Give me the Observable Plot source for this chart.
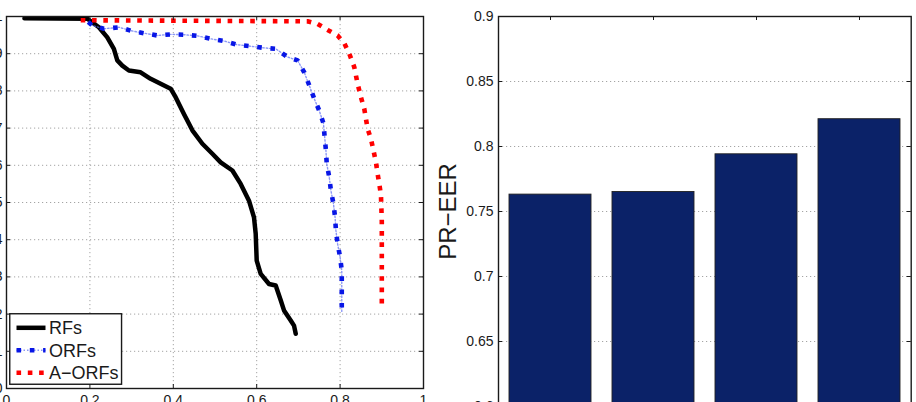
<!DOCTYPE html>
<html>
<head>
<meta charset="utf-8">
<script src="https://cdn.jsdelivr.net/npm/d3@7"></script>
<script src="https://cdn.jsdelivr.net/npm/@observablehq/plot@0.6"></script>
<style>
  html, body { margin: 0; padding: 0; background: #fff; overflow: hidden; }
  #fig { position: relative; width: 916px; height: 402px; overflow: hidden; background: #fff; }
  #fig > svg { position: absolute; top: 0; }
</style>
</head>
<body>
<div id="fig"></div>
<script>
// Precision–recall curves (recall on x, precision on y)
const rfRecall = [0.043, 0.194, 0.2215, 0.2417, 0.2575, 0.2657, 0.2777, 0.2935, 0.3216, 0.3456, 0.3696, 0.3936, 0.4056, 0.4255, 0.4457, 0.4697, 0.4937, 0.5136, 0.5417, 0.5616, 0.5815, 0.5935, 0.5976, 0.600, 0.6096, 0.6295, 0.6456, 0.6576, 0.6655, 0.6816, 0.6895, 0.6936];
const rfPrecision = [0.995, 0.994, 0.971, 0.944, 0.913, 0.882, 0.868, 0.855, 0.850, 0.8325, 0.819, 0.806, 0.783, 0.738, 0.694, 0.658, 0.631, 0.608, 0.586, 0.550, 0.505, 0.460, 0.416, 0.344, 0.308, 0.281, 0.277, 0.237, 0.210, 0.183, 0.169, 0.147];

const orfRecall = [0.196, 0.2057, 0.2335, 0.270, 0.2976, 0.330, 0.3617, 0.394, 0.426, 0.458, 0.490, 0.522, 0.554, 0.586, 0.614, 0.646, 0.674, 0.698, 0.714, 0.726, 0.738, 0.750, 0.760, 0.763, 0.766, 0.768, 0.774, 0.778, 0.784, 0.788, 0.790, 0.794, 0.800, 0.804, 0.804, 0.804, 0.804];
const orfPrecision = [0.985, 0.976, 0.967, 0.971, 0.962, 0.955, 0.949, 0.952, 0.951, 0.948, 0.940, 0.934, 0.924, 0.920, 0.916, 0.913, 0.891, 0.882, 0.850, 0.815, 0.779, 0.747, 0.713, 0.676, 0.640, 0.604, 0.568, 0.532, 0.497, 0.460, 0.425, 0.389, 0.353, 0.317, 0.277, 0.241, 0.205];

const aorfRecall = [0.178, 0.722, 0.746, 0.770, 0.794, 0.810, 0.822, 0.834, 0.842, 0.850, 0.858, 0.866, 0.874, 0.880, 0.886, 0.890, 0.894, 0.898, 0.900, 0.900, 0.900];
const aorfPrecision = [0.990, 0.987, 0.980, 0.964, 0.949, 0.928, 0.900, 0.864, 0.819, 0.783, 0.752, 0.698, 0.671, 0.640, 0.608, 0.577, 0.550, 0.519, 0.450, 0.350, 0.215];

const methods = ["RFs", "ORFs", "A\u2212ORFs"];

// PR-EER of the four configurations
const barCategories = ["1", "2", "3", "4"];
const barValues = [0.763, 0.765, 0.794, 0.821];

// Tick values
const prTicksX = [0, 0.2, 0.4, 0.6, 0.8, 1];
const prTicksY = [0, 0.1, 0.2, 0.3, 0.4, 0.5, 0.6, 0.7, 0.8, 0.9, 1];
const eerTicks = [0.6, 0.65, 0.7, 0.75, 0.8, 0.85, 0.9];

const toPoints = (xs, ys) => xs.map((x, i) => ({recall: x, precision: ys[i]}));
const rf = toPoints(rfRecall, rfPrecision);
const orf = toPoints(orfRecall, orfPrecision);
const aorf = toPoints(aorfRecall, aorfPrecision);
const bars = barCategories.map((c, i) => ({config: c, eer: barValues[i]}));

const font = "'Liberation Sans', Arial, Helvetica, sans-serif";
const ink = "#1a1a1a";
const gridStyle = {stroke: "#9a9a9a", strokeOpacity: 0.9, strokeWidth: 1, strokeDasharray: "1.2,2.8"};

// Line styles shared by the curves and the legend
const styles = {
  rf: {stroke: "#000", strokeWidth: 4.5, strokeLinejoin: "round"},
  orfThin: {stroke: "#5b6cf2", strokeWidth: 1.4, strokeOpacity: 0.7, strokeDasharray: "1.5,2"},
  orf: {stroke: "#0816e6", strokeWidth: 4.6, strokeDasharray: "4.6,8.7", strokeLinecap: "butt"},
  aorf: {stroke: "#f00", strokeWidth: 4.6, strokeDasharray: "4.6,6.7", strokeLinecap: "butt"}
};

// ---------- Left panel: precision–recall curves ----------
const W1 = 467, H1 = 418, ML1 = 40, MR1 = 10, MT1 = 16, MB1 = 30;
const fw1 = W1 - ML1 - MR1, fh1 = H1 - MT1 - MB1;
const tickLen = 4;

const pr = Plot.plot({
  width: W1, height: H1,
  marginLeft: ML1, marginRight: MR1, marginTop: MT1, marginBottom: MB1,
  style: {fontFamily: font, fontSize: "14px", color: ink, background: "transparent", overflow: "visible"},
  x: {domain: [0, 1], axis: null},
  y: {domain: [0, 1], axis: null},
  marks: [
    Plot.gridX(prTicksX.slice(1, -1), gridStyle),
    Plot.gridY(prTicksY.slice(1, -1), gridStyle),
    Plot.line(rf, {x: "recall", y: "precision", ...styles.rf}),
    Plot.line(orf, {x: "recall", y: "precision", ...styles.orfThin}),
    Plot.line(orf, {x: "recall", y: "precision", ...styles.orf}),
    Plot.line(aorf, {x: "recall", y: "precision", ...styles.aorf}),
    // inward ticks on all four sides
    Plot.tickY(prTicksY, {y: d => d, stroke: ink, insetRight: fw1 - tickLen}),
    Plot.tickY(prTicksY, {y: d => d, stroke: ink, insetLeft: fw1 - tickLen}),
    Plot.tickX(prTicksX, {x: d => d, stroke: ink, insetTop: fh1 - tickLen}),
    Plot.tickX(prTicksX, {x: d => d, stroke: ink, insetBottom: fh1 - tickLen}),
    Plot.axisY(prTicksY, {tickSize: 0, tickPadding: 4, tickFormat: d => String(d), label: null}),
    Plot.axisX(prTicksX, {tickSize: 0, tickPadding: 7, tickFormat: d => String(d), label: null}),
    Plot.frame({stroke: ink, strokeWidth: 1.4})
  ]
});
pr.style.left = (6 - ML1) + "px";
document.getElementById("fig").appendChild(pr);

// Legend box inside the lower-left corner of the curves panel
const leg = d3.select("#fig").append("svg")
  .attr("width", 114).attr("height", 73)
  .style("left", "9px").style("top", "313px")
  .style("font-family", font);
leg.append("rect").attr("x", 0.75).attr("y", 0.75).attr("width", 111.8).attr("height", 70.5)
  .attr("fill", "#fff").attr("stroke", ink).attr("stroke-width", 1.4);
const rows = [
  {name: methods[0], layers: [styles.rf]},
  {name: methods[1], layers: [styles.orfThin, styles.orf]},
  {name: methods[2], layers: [styles.aorf]}
];
const attrName = k => k.replace(/[A-Z]/g, m => "-" + m.toLowerCase());
rows.forEach((r, i) => {
  const y = 14.8 + i * 22.5;
  r.layers.forEach(s => {
    const ln = leg.append("line").attr("x1", 7.5).attr("x2", 36.5).attr("y1", y).attr("y2", y);
    Object.entries(s).forEach(([k, v]) => ln.attr(attrName(k), v));
  });
  leg.append("text").attr("x", 40).attr("y", y).attr("dy", "0.35em")
    .attr("font-size", 18).attr("fill", ink).text(r.name);
});

// ---------- Right panel: PR-EER bars ----------
const W2 = 483, H2 = 436, ML2 = 65, MR2 = 5.3, MT2 = 16, MB2 = 30;
const fw2 = W2 - ML2 - MR2, fh2 = H2 - MT2 - MB2;

const eer = Plot.plot({
  width: W2, height: H2,
  marginLeft: ML2, marginRight: MR2, marginTop: MT2, marginBottom: MB2,
  style: {fontFamily: font, fontSize: "14px", color: ink, background: "transparent", overflow: "visible"},
  x: {type: "band", domain: barCategories, paddingInner: 0.2, paddingOuter: 0.1, axis: null},
  y: {domain: [0.6, 0.9], axis: null},
  marks: [
    Plot.gridY(eerTicks.slice(1, -1), gridStyle),
    Plot.barY(bars, {x: "config", y: "eer", fill: "#0b2268", stroke: "#222", strokeWidth: 0.9, clip: true}),
    Plot.tickY(eerTicks, {y: d => d, stroke: ink, insetRight: fw2 - tickLen}),
    Plot.tickY(eerTicks, {y: d => d, stroke: ink, insetLeft: fw2 - tickLen}),
    Plot.tickX(barCategories, {x: d => d, stroke: ink, insetBottom: fh2 - tickLen}),
    Plot.axisY(eerTicks, {tickSize: 0, tickPadding: 5, tickFormat: d => String(d), label: null}),
    Plot.axisY([], {tickSize: 0, label: "PR\u2212EER", labelAnchor: "center", labelArrow: false, labelOffset: 60, fontSize: 24}),
    Plot.frame({stroke: ink, strokeWidth: 1.4})
  ]
});
eer.style.left = (498 - ML2) + "px";
document.getElementById("fig").appendChild(eer);
</script>
</body>
</html>
